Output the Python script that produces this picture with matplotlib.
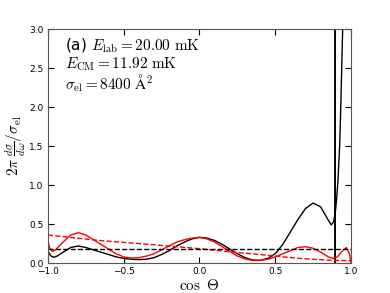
import matplotlib
matplotlib.use('Agg')
import matplotlib.pyplot as plt

plt.rcParams['mathtext.fontset'] = 'cm'

# black solid curve (with the spike near cos = 0.896)
x_black = [-1.00, -0.98, -0.96, -0.94, -0.90, -0.85, -0.80, -0.75, -0.70, -0.65,
           -0.60, -0.55, -0.50, -0.45, -0.40, -0.35, -0.30, -0.25, -0.20, -0.15,
           -0.10, -0.05, 0.00, 0.05, 0.10, 0.15, 0.20, 0.25, 0.30, 0.35,
           0.40, 0.45, 0.50, 0.55, 0.60, 0.65, 0.70, 0.75, 0.80, 0.85,
           0.87, 0.885, 0.896, 0.896, 0.896, 0.896, 0.905, 0.914, 0.925, 0.932,
           0.945, 0.96]
y_black = [0.15, 0.09, 0.075, 0.09, 0.14, 0.20, 0.22, 0.20, 0.17, 0.14,
           0.11, 0.08, 0.06, 0.05, 0.045, 0.05, 0.07, 0.11, 0.16, 0.22,
           0.27, 0.31, 0.33, 0.32, 0.29, 0.24, 0.18, 0.12, 0.07, 0.04,
           0.035, 0.06, 0.12, 0.24, 0.40, 0.56, 0.70, 0.77, 0.72, 0.55,
           0.49, 0.53, 0.64, 50.0, -50.0, 0.64, 0.82, 1.06, 1.5, 1.96,
           3.0, 4.5]

# red solid curve
x_red = [-1.00, -0.99, -0.97, -0.95, -0.90, -0.85, -0.80, -0.75, -0.70, -0.65,
         -0.60, -0.55, -0.50, -0.45, -0.40, -0.35, -0.30, -0.25, -0.20, -0.15,
         -0.10, -0.05, 0.00, 0.05, 0.10, 0.15, 0.20, 0.25, 0.30, 0.35,
         0.40, 0.45, 0.50, 0.55, 0.60, 0.65, 0.70, 0.75, 0.80, 0.85,
         0.88, 0.91, 0.94, 0.97, 0.99, 1.00]
y_red = [0.29, 0.20, 0.15, 0.17, 0.27, 0.36, 0.39, 0.36, 0.30, 0.24,
         0.18, 0.12, 0.08, 0.065, 0.07, 0.09, 0.12, 0.17, 0.22, 0.27,
         0.30, 0.32, 0.33, 0.31, 0.27, 0.21, 0.15, 0.09, 0.055, 0.035,
         0.035, 0.05, 0.08, 0.12, 0.16, 0.20, 0.21, 0.19, 0.14, 0.08,
         0.06, 0.08, 0.15, 0.20, 0.12, 0.0]

# dashed curves
x_red_dash = [-1.00, -0.66, -0.30, 0.00, 0.20, 0.40, 0.66, 0.88, 1.00]
y_red_dash = [0.36, 0.29, 0.235, 0.185, 0.145, 0.11, 0.06, 0.035, 0.03]
x_black_dash = [-1.0, 1.0]
y_black_dash = [0.18, 0.18]

fig = plt.figure(figsize=(3.9, 2.93), dpi=100)
ax = fig.add_axes([0.123, 0.102, 0.777, 0.799])

ax.plot(x_black, y_black, 'k-', lw=1.0)
ax.plot(x_red, y_red, 'r-', lw=1.0)
ax.plot(x_red_dash, y_red_dash, 'r--', lw=1.0)
ax.plot(x_black_dash, y_black_dash, 'k--', lw=1.0)

ax.set_xlim(-1, 1)
ax.set_ylim(0, 3)
ax.set_xticks([-1.0, -0.5, 0.0, 0.5, 1.0])
ax.set_yticks([0.0, 0.5, 1.0, 1.5, 2.0, 2.5, 3.0])
ax.tick_params(direction='in', top=True, right=True, labelsize=6.5, length=4, pad=3)
for s in ax.spines.values():
    s.set_color('#555555')

ax.set_xlabel(r'$\cos\ \Theta$', fontsize=11, labelpad=1)
ax.set_ylabel(r'$2\pi\ \frac{d\sigma}{d\omega}/\sigma_{\rm el}$', fontsize=11)
ax.yaxis.set_label_coords(-0.065, 0.5)

ax.text(0.056, 0.910, r'(a) $E_{\rm lab}=20.00\ {\rm mK}$', transform=ax.transAxes,
        fontsize=11, va='baseline')
ax.text(0.056, 0.833, r'$E_{\rm CM}=11.92\ {\rm mK}$', transform=ax.transAxes,
        fontsize=11, va='baseline')
ax.text(0.056, 0.742, r'$\sigma_{\rm el}=8400\ \mathrm{\AA}^2$', transform=ax.transAxes,
        fontsize=11, va='baseline')

fig.savefig('out.png', dpi=100)
